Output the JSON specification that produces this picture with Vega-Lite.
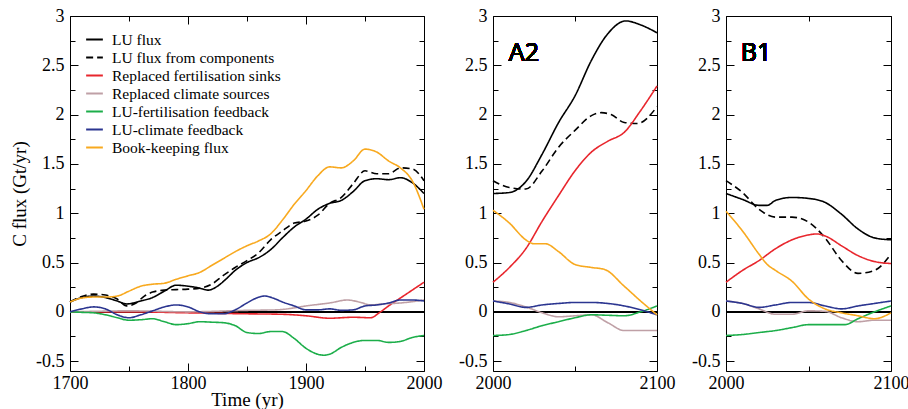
{
  "$schema": "https://vega.github.io/schema/vega-lite/v6.json",
  "padding": {"left": 10, "top": 6, "right": 0, "bottom": 0},
  "spacing": 15,
  "config": {
    "view": {"stroke": "black", "strokeWidth": 1},
    "style": {"guide-label": {"font": "Liberation Serif", "fontSize": 18, "fill": "black"}, "guide-title": {"font": "Liberation Serif", "fontSize": 19, "fontWeight": "normal", "fill": "black"}},
    "axis": {"labelFont": "Liberation Serif", "labelFontSize": 18, "labelColor": "black", "titleFont": "Liberation Serif", "titleFontSize": 19, "titleFontWeight": "normal", "titleColor": "black", "tickColor": "black", "tickWidth": 1, "domain": false, "grid": false, "labelFlush": false, "labelOverlap": false, "labelBound": false},
    "legend": {"title": null, "orient": "none", "legendX": 15, "legendY": 14, "symbolType": "stroke", "symbolSize": 280, "symbolStrokeWidth": 2, "labelFont": "Liberation Serif", "labelFontSize": 15.5, "labelColor": "black", "labelOffset": 8, "rowPadding": 0, "padding": 0, "labelLimit": 300}
  },
  "resolve": {"legend": {"color": "independent", "strokeDash": "independent"}},
  "datasets": {
    "hist": [
      {"series":"LU flux","year":1700,"value":0.10},{"series":"LU flux","year":1710,"value":0.145},{"series":"LU flux","year":1720,"value":0.16},{"series":"LU flux","year":1730,"value":0.145},{"series":"LU flux","year":1740,"value":0.11},{"series":"LU flux","year":1748,"value":0.08},{"series":"LU flux","year":1760,"value":0.11},{"series":"LU flux","year":1770,"value":0.145},{"series":"LU flux","year":1780,"value":0.21},{"series":"LU flux","year":1790,"value":0.27},{"series":"LU flux","year":1800,"value":0.26},{"series":"LU flux","year":1810,"value":0.24},{"series":"LU flux","year":1817,"value":0.22},{"series":"LU flux","year":1825,"value":0.26},{"series":"LU flux","year":1832,"value":0.33},{"series":"LU flux","year":1840,"value":0.42},{"series":"LU flux","year":1850,"value":0.50},{"series":"LU flux","year":1860,"value":0.55},{"series":"LU flux","year":1870,"value":0.63},{"series":"LU flux","year":1880,"value":0.75},{"series":"LU flux","year":1890,"value":0.86},{"series":"LU flux","year":1900,"value":0.94},{"series":"LU flux","year":1910,"value":1.04},{"series":"LU flux","year":1920,"value":1.10},{"series":"LU flux","year":1930,"value":1.13},{"series":"LU flux","year":1940,"value":1.22},{"series":"LU flux","year":1950,"value":1.33},{"series":"LU flux","year":1960,"value":1.35},{"series":"LU flux","year":1970,"value":1.34},{"series":"LU flux","year":1980,"value":1.36},{"series":"LU flux","year":1990,"value":1.31},{"series":"LU flux","year":2000,"value":1.20},
      {"series":"LU flux from components","year":1700,"value":0.10},{"series":"LU flux from components","year":1710,"value":0.155},{"series":"LU flux from components","year":1720,"value":0.18},{"series":"LU flux from components","year":1730,"value":0.17},{"series":"LU flux from components","year":1740,"value":0.13},{"series":"LU flux from components","year":1748,"value":0.06},{"series":"LU flux from components","year":1756,"value":0.09},{"series":"LU flux from components","year":1763,"value":0.16},{"series":"LU flux from components","year":1770,"value":0.20},{"series":"LU flux from components","year":1780,"value":0.22},{"series":"LU flux from components","year":1790,"value":0.225},{"series":"LU flux from components","year":1800,"value":0.23},{"series":"LU flux from components","year":1810,"value":0.24},{"series":"LU flux from components","year":1820,"value":0.28},{"series":"LU flux from components","year":1830,"value":0.37},{"series":"LU flux from components","year":1840,"value":0.45},{"series":"LU flux from components","year":1850,"value":0.52},{"series":"LU flux from components","year":1860,"value":0.60},{"series":"LU flux from components","year":1870,"value":0.73},{"series":"LU flux from components","year":1880,"value":0.82},{"series":"LU flux from components","year":1890,"value":0.90},{"series":"LU flux from components","year":1900,"value":0.92},{"series":"LU flux from components","year":1910,"value":0.98},{"series":"LU flux from components","year":1920,"value":1.10},{"series":"LU flux from components","year":1930,"value":1.16},{"series":"LU flux from components","year":1940,"value":1.30},{"series":"LU flux from components","year":1950,"value":1.43},{"series":"LU flux from components","year":1960,"value":1.40},{"series":"LU flux from components","year":1970,"value":1.40},{"series":"LU flux from components","year":1980,"value":1.46},{"series":"LU flux from components","year":1990,"value":1.45},{"series":"LU flux from components","year":2000,"value":1.33},
      {"series":"Replaced fertilisation sinks","year":1700,"value":0},{"series":"Replaced fertilisation sinks","year":1750,"value":0},{"series":"Replaced fertilisation sinks","year":1800,"value":-0.01},{"series":"Replaced fertilisation sinks","year":1850,"value":-0.02},{"series":"Replaced fertilisation sinks","year":1880,"value":-0.025},{"series":"Replaced fertilisation sinks","year":1900,"value":-0.04},{"series":"Replaced fertilisation sinks","year":1920,"value":-0.065},{"series":"Replaced fertilisation sinks","year":1940,"value":-0.055},{"series":"Replaced fertilisation sinks","year":1955,"value":-0.06},{"series":"Replaced fertilisation sinks","year":1962,"value":-0.01},{"series":"Replaced fertilisation sinks","year":1970,"value":0.06},{"series":"Replaced fertilisation sinks","year":1980,"value":0.14},{"series":"Replaced fertilisation sinks","year":1990,"value":0.22},{"series":"Replaced fertilisation sinks","year":2000,"value":0.30},
      {"series":"Replaced climate sources","year":1700,"value":0},{"series":"Replaced climate sources","year":1720,"value":0.005},{"series":"Replaced climate sources","year":1750,"value":0.01},{"series":"Replaced climate sources","year":1800,"value":0},{"series":"Replaced climate sources","year":1850,"value":0.015},{"series":"Replaced climate sources","year":1875,"value":0.02},{"series":"Replaced climate sources","year":1890,"value":0.04},{"series":"Replaced climate sources","year":1900,"value":0.06},{"series":"Replaced climate sources","year":1910,"value":0.075},{"series":"Replaced climate sources","year":1920,"value":0.09},{"series":"Replaced climate sources","year":1935,"value":0.12},{"series":"Replaced climate sources","year":1945,"value":0.10},{"series":"Replaced climate sources","year":1955,"value":0.07},{"series":"Replaced climate sources","year":1965,"value":0.08},{"series":"Replaced climate sources","year":1980,"value":0.09},{"series":"Replaced climate sources","year":2000,"value":0.12},
      {"series":"LU-fertilisation feedback","year":1700,"value":0},{"series":"LU-fertilisation feedback","year":1710,"value":-0.005},{"series":"LU-fertilisation feedback","year":1720,"value":-0.01},{"series":"LU-fertilisation feedback","year":1730,"value":-0.03},{"series":"LU-fertilisation feedback","year":1740,"value":-0.06},{"series":"LU-fertilisation feedback","year":1750,"value":-0.085},{"series":"LU-fertilisation feedback","year":1760,"value":-0.08},{"series":"LU-fertilisation feedback","year":1770,"value":-0.07},{"series":"LU-fertilisation feedback","year":1780,"value":-0.10},{"series":"LU-fertilisation feedback","year":1790,"value":-0.13},{"series":"LU-fertilisation feedback","year":1800,"value":-0.12},{"series":"LU-fertilisation feedback","year":1810,"value":-0.10},{"series":"LU-fertilisation feedback","year":1820,"value":-0.105},{"series":"LU-fertilisation feedback","year":1830,"value":-0.11},{"series":"LU-fertilisation feedback","year":1840,"value":-0.14},{"series":"LU-fertilisation feedback","year":1850,"value":-0.21},{"series":"LU-fertilisation feedback","year":1860,"value":-0.22},{"series":"LU-fertilisation feedback","year":1870,"value":-0.20},{"series":"LU-fertilisation feedback","year":1880,"value":-0.20},{"series":"LU-fertilisation feedback","year":1890,"value":-0.27},{"series":"LU-fertilisation feedback","year":1900,"value":-0.37},{"series":"LU-fertilisation feedback","year":1910,"value":-0.43},{"series":"LU-fertilisation feedback","year":1915,"value":-0.44},{"series":"LU-fertilisation feedback","year":1920,"value":-0.43},{"series":"LU-fertilisation feedback","year":1930,"value":-0.36},{"series":"LU-fertilisation feedback","year":1940,"value":-0.31},{"series":"LU-fertilisation feedback","year":1950,"value":-0.29},{"series":"LU-fertilisation feedback","year":1960,"value":-0.29},{"series":"LU-fertilisation feedback","year":1970,"value":-0.31},{"series":"LU-fertilisation feedback","year":1980,"value":-0.30},{"series":"LU-fertilisation feedback","year":1990,"value":-0.26},{"series":"LU-fertilisation feedback","year":2000,"value":-0.24},
      {"series":"LU-climate feedback","year":1700,"value":0},{"series":"LU-climate feedback","year":1710,"value":0.03},{"series":"LU-climate feedback","year":1720,"value":0.05},{"series":"LU-climate feedback","year":1730,"value":0.03},{"series":"LU-climate feedback","year":1740,"value":-0.03},{"series":"LU-climate feedback","year":1750,"value":-0.06},{"series":"LU-climate feedback","year":1760,"value":-0.03},{"series":"LU-climate feedback","year":1770,"value":0.01},{"series":"LU-climate feedback","year":1780,"value":0.05},{"series":"LU-climate feedback","year":1790,"value":0.07},{"series":"LU-climate feedback","year":1800,"value":0.05},{"series":"LU-climate feedback","year":1810,"value":0},{"series":"LU-climate feedback","year":1820,"value":-0.02},{"series":"LU-climate feedback","year":1830,"value":-0.02},{"series":"LU-climate feedback","year":1840,"value":0.02},{"series":"LU-climate feedback","year":1850,"value":0.09},{"series":"LU-climate feedback","year":1858,"value":0.14},{"series":"LU-climate feedback","year":1865,"value":0.16},{"series":"LU-climate feedback","year":1872,"value":0.14},{"series":"LU-climate feedback","year":1880,"value":0.10},{"series":"LU-climate feedback","year":1890,"value":0.06},{"series":"LU-climate feedback","year":1900,"value":0.02},{"series":"LU-climate feedback","year":1910,"value":0.02},{"series":"LU-climate feedback","year":1920,"value":0.03},{"series":"LU-climate feedback","year":1930,"value":0.015},{"series":"LU-climate feedback","year":1940,"value":0.02},{"series":"LU-climate feedback","year":1950,"value":0.06},{"series":"LU-climate feedback","year":1960,"value":0.07},{"series":"LU-climate feedback","year":1970,"value":0.09},{"series":"LU-climate feedback","year":1980,"value":0.12},{"series":"LU-climate feedback","year":1990,"value":0.12},{"series":"LU-climate feedback","year":2000,"value":0.11},
      {"series":"Book-keeping flux","year":1700,"value":0.10},{"series":"Book-keeping flux","year":1710,"value":0.14},{"series":"Book-keeping flux","year":1720,"value":0.15},{"series":"Book-keeping flux","year":1730,"value":0.15},{"series":"Book-keeping flux","year":1740,"value":0.16},{"series":"Book-keeping flux","year":1750,"value":0.21},{"series":"Book-keeping flux","year":1760,"value":0.26},{"series":"Book-keeping flux","year":1770,"value":0.28},{"series":"Book-keeping flux","year":1780,"value":0.29},{"series":"Book-keeping flux","year":1790,"value":0.33},{"series":"Book-keeping flux","year":1800,"value":0.365},{"series":"Book-keeping flux","year":1810,"value":0.40},{"series":"Book-keeping flux","year":1820,"value":0.47},{"series":"Book-keeping flux","year":1830,"value":0.54},{"series":"Book-keeping flux","year":1840,"value":0.61},{"series":"Book-keeping flux","year":1850,"value":0.67},{"series":"Book-keeping flux","year":1860,"value":0.72},{"series":"Book-keeping flux","year":1870,"value":0.79},{"series":"Book-keeping flux","year":1880,"value":0.93},{"series":"Book-keeping flux","year":1890,"value":1.09},{"series":"Book-keeping flux","year":1900,"value":1.23},{"series":"Book-keeping flux","year":1910,"value":1.38},{"series":"Book-keeping flux","year":1920,"value":1.47},{"series":"Book-keeping flux","year":1930,"value":1.46},{"series":"Book-keeping flux","year":1940,"value":1.53},{"series":"Book-keeping flux","year":1950,"value":1.65},{"series":"Book-keeping flux","year":1960,"value":1.62},{"series":"Book-keeping flux","year":1970,"value":1.53},{"series":"Book-keeping flux","year":1980,"value":1.46},{"series":"Book-keeping flux","year":1990,"value":1.33},{"series":"Book-keeping flux","year":2000,"value":1.04}
    ],
    "a2": [
      {"series":"LU flux","year":2000,"value":1.20},{"series":"LU flux","year":2010,"value":1.21},{"series":"LU flux","year":2020,"value":1.32},{"series":"LU flux","year":2030,"value":1.60},{"series":"LU flux","year":2040,"value":1.92},{"series":"LU flux","year":2050,"value":2.19},{"series":"LU flux","year":2060,"value":2.55},{"series":"LU flux","year":2070,"value":2.82},{"series":"LU flux","year":2081,"value":2.95},{"series":"LU flux","year":2090,"value":2.91},{"series":"LU flux","year":2100,"value":2.83},
      {"series":"LU flux from components","year":2000,"value":1.33},{"series":"LU flux from components","year":2010,"value":1.26},{"series":"LU flux from components","year":2020,"value":1.245},{"series":"LU flux from components","year":2030,"value":1.43},{"series":"LU flux from components","year":2040,"value":1.67},{"series":"LU flux from components","year":2050,"value":1.84},{"series":"LU flux from components","year":2060,"value":1.99},{"series":"LU flux from components","year":2066,"value":2.02},{"series":"LU flux from components","year":2072,"value":2.0},{"series":"LU flux from components","year":2080,"value":1.92},{"series":"LU flux from components","year":2088,"value":1.91},{"series":"LU flux from components","year":2100,"value":2.08},
      {"series":"Replaced fertilisation sinks","year":2000,"value":0.30},{"series":"Replaced fertilisation sinks","year":2010,"value":0.45},{"series":"Replaced fertilisation sinks","year":2020,"value":0.64},{"series":"Replaced fertilisation sinks","year":2030,"value":0.92},{"series":"Replaced fertilisation sinks","year":2040,"value":1.18},{"series":"Replaced fertilisation sinks","year":2050,"value":1.43},{"series":"Replaced fertilisation sinks","year":2060,"value":1.62},{"series":"Replaced fertilisation sinks","year":2070,"value":1.73},{"series":"Replaced fertilisation sinks","year":2080,"value":1.82},{"series":"Replaced fertilisation sinks","year":2090,"value":2.04},{"series":"Replaced fertilisation sinks","year":2100,"value":2.29},
      {"series":"Replaced climate sources","year":2000,"value":0.11},{"series":"Replaced climate sources","year":2010,"value":0.095},{"series":"Replaced climate sources","year":2020,"value":0.05},{"series":"Replaced climate sources","year":2030,"value":-0.01},{"series":"Replaced climate sources","year":2040,"value":-0.05},{"series":"Replaced climate sources","year":2050,"value":-0.04},{"series":"Replaced climate sources","year":2060,"value":-0.03},{"series":"Replaced climate sources","year":2070,"value":-0.11},{"series":"Replaced climate sources","year":2080,"value":-0.19},{"series":"Replaced climate sources","year":2090,"value":-0.19},{"series":"Replaced climate sources","year":2100,"value":-0.19},
      {"series":"LU-fertilisation feedback","year":2000,"value":-0.24},{"series":"LU-fertilisation feedback","year":2010,"value":-0.23},{"series":"LU-fertilisation feedback","year":2020,"value":-0.19},{"series":"LU-fertilisation feedback","year":2030,"value":-0.14},{"series":"LU-fertilisation feedback","year":2040,"value":-0.10},{"series":"LU-fertilisation feedback","year":2050,"value":-0.06},{"series":"LU-fertilisation feedback","year":2060,"value":-0.03},{"series":"LU-fertilisation feedback","year":2070,"value":-0.035},{"series":"LU-fertilisation feedback","year":2080,"value":-0.04},{"series":"LU-fertilisation feedback","year":2090,"value":0.0},{"series":"LU-fertilisation feedback","year":2100,"value":0.06},
      {"series":"LU-climate feedback","year":2000,"value":0.11},{"series":"LU-climate feedback","year":2010,"value":0.08},{"series":"LU-climate feedback","year":2020,"value":0.045},{"series":"LU-climate feedback","year":2030,"value":0.07},{"series":"LU-climate feedback","year":2040,"value":0.085},{"series":"LU-climate feedback","year":2050,"value":0.095},{"series":"LU-climate feedback","year":2060,"value":0.095},{"series":"LU-climate feedback","year":2070,"value":0.085},{"series":"LU-climate feedback","year":2080,"value":0.06},{"series":"LU-climate feedback","year":2090,"value":0.02},{"series":"LU-climate feedback","year":2100,"value":-0.03},
      {"series":"Book-keeping flux","year":2000,"value":1.03},{"series":"Book-keeping flux","year":2010,"value":0.90},{"series":"Book-keeping flux","year":2020,"value":0.73},{"series":"Book-keeping flux","year":2025,"value":0.69},{"series":"Book-keeping flux","year":2032,"value":0.69},{"series":"Book-keeping flux","year":2040,"value":0.61},{"series":"Book-keeping flux","year":2050,"value":0.48},{"series":"Book-keeping flux","year":2060,"value":0.45},{"series":"Book-keeping flux","year":2068,"value":0.43},{"series":"Book-keeping flux","year":2080,"value":0.26},{"series":"Book-keeping flux","year":2090,"value":0.11},{"series":"Book-keeping flux","year":2100,"value":-0.03}
    ],
    "b1": [
      {"series":"LU flux","year":2000,"value":1.20},{"series":"LU flux","year":2010,"value":1.14},{"series":"LU flux","year":2020,"value":1.08},{"series":"LU flux","year":2025,"value":1.08},{"series":"LU flux","year":2030,"value":1.13},{"series":"LU flux","year":2040,"value":1.16},{"series":"LU flux","year":2050,"value":1.15},{"series":"LU flux","year":2060,"value":1.11},{"series":"LU flux","year":2070,"value":0.99},{"series":"LU flux","year":2080,"value":0.84},{"series":"LU flux","year":2090,"value":0.75},{"series":"LU flux","year":2100,"value":0.73},
      {"series":"LU flux from components","year":2000,"value":1.33},{"series":"LU flux from components","year":2010,"value":1.21},{"series":"LU flux from components","year":2020,"value":1.04},{"series":"LU flux from components","year":2030,"value":0.96},{"series":"LU flux from components","year":2040,"value":0.96},{"series":"LU flux from components","year":2050,"value":0.91},{"series":"LU flux from components","year":2060,"value":0.75},{"series":"LU flux from components","year":2070,"value":0.52},{"series":"LU flux from components","year":2080,"value":0.39},{"series":"LU flux from components","year":2090,"value":0.42},{"series":"LU flux from components","year":2100,"value":0.585},
      {"series":"Replaced fertilisation sinks","year":2000,"value":0.30},{"series":"Replaced fertilisation sinks","year":2010,"value":0.42},{"series":"Replaced fertilisation sinks","year":2020,"value":0.52},{"series":"Replaced fertilisation sinks","year":2030,"value":0.64},{"series":"Replaced fertilisation sinks","year":2040,"value":0.73},{"series":"Replaced fertilisation sinks","year":2050,"value":0.78},{"series":"Replaced fertilisation sinks","year":2055,"value":0.79},{"series":"Replaced fertilisation sinks","year":2060,"value":0.77},{"series":"Replaced fertilisation sinks","year":2070,"value":0.67},{"series":"Replaced fertilisation sinks","year":2080,"value":0.57},{"series":"Replaced fertilisation sinks","year":2090,"value":0.51},{"series":"Replaced fertilisation sinks","year":2100,"value":0.49},
      {"series":"Replaced climate sources","year":2000,"value":0.11},{"series":"Replaced climate sources","year":2010,"value":0.085},{"series":"Replaced climate sources","year":2020,"value":0.03},{"series":"Replaced climate sources","year":2030,"value":-0.025},{"series":"Replaced climate sources","year":2040,"value":-0.025},{"series":"Replaced climate sources","year":2050,"value":0.01},{"series":"Replaced climate sources","year":2060,"value":0.005},{"series":"Replaced climate sources","year":2070,"value":-0.06},{"series":"Replaced climate sources","year":2080,"value":-0.10},{"series":"Replaced climate sources","year":2090,"value":-0.085},{"series":"Replaced climate sources","year":2100,"value":-0.085},
      {"series":"LU-fertilisation feedback","year":2000,"value":-0.24},{"series":"LU-fertilisation feedback","year":2010,"value":-0.23},{"series":"LU-fertilisation feedback","year":2020,"value":-0.21},{"series":"LU-fertilisation feedback","year":2030,"value":-0.19},{"series":"LU-fertilisation feedback","year":2040,"value":-0.16},{"series":"LU-fertilisation feedback","year":2050,"value":-0.13},{"series":"LU-fertilisation feedback","year":2060,"value":-0.13},{"series":"LU-fertilisation feedback","year":2072,"value":-0.13},{"series":"LU-fertilisation feedback","year":2080,"value":-0.07},{"series":"LU-fertilisation feedback","year":2090,"value":0.0},{"series":"LU-fertilisation feedback","year":2100,"value":0.06},
      {"series":"LU-climate feedback","year":2000,"value":0.11},{"series":"LU-climate feedback","year":2010,"value":0.085},{"series":"LU-climate feedback","year":2020,"value":0.045},{"series":"LU-climate feedback","year":2030,"value":0.07},{"series":"LU-climate feedback","year":2040,"value":0.095},{"series":"LU-climate feedback","year":2050,"value":0.095},{"series":"LU-climate feedback","year":2060,"value":0.06},{"series":"LU-climate feedback","year":2070,"value":0.03},{"series":"LU-climate feedback","year":2080,"value":0.06},{"series":"LU-climate feedback","year":2090,"value":0.085},{"series":"LU-climate feedback","year":2100,"value":0.11},
      {"series":"Book-keeping flux","year":2000,"value":1.02},{"series":"Book-keeping flux","year":2010,"value":0.82},{"series":"Book-keeping flux","year":2020,"value":0.585},{"series":"Book-keeping flux","year":2025,"value":0.48},{"series":"Book-keeping flux","year":2030,"value":0.42},{"series":"Book-keeping flux","year":2040,"value":0.31},{"series":"Book-keeping flux","year":2050,"value":0.13},{"series":"Book-keeping flux","year":2060,"value":0.03},{"series":"Book-keeping flux","year":2070,"value":-0.01},{"series":"Book-keeping flux","year":2080,"value":-0.04},{"series":"Book-keeping flux","year":2090,"value":-0.07},{"series":"Book-keeping flux","year":2100,"value":-0.01}
    ]
  },
  "hconcat": [
    {
      "width": 354, "height": 355,
      "data": {"name": "hist"},
      "layer": [
        {"mark": {"type": "rule", "color": "black", "strokeWidth": 1}, "encoding": {"y": {"datum": 0, "type": "quantitative", "scale": {"domain": [-0.6, 3], "nice": false, "zero": false}, "axis": null}}},
        {"mark": {"type": "line", "interpolate": "monotone", "strokeWidth": 1.6},
         "encoding": {
           "x": {"field": "year", "type": "quantitative", "scale": {"domain": [1700, 2000], "nice": false, "zero": false},
                 "axis": {"orient": "bottom", "values": [1700, 1800, 1900, 2000], "labelExpr": "'' + datum.value", "ticks": false, "tickSize": 0, "labelPadding": 3, "title": "Time (yr)", "titlePadding": -2}},
           "y": {"field": "value", "type": "quantitative", "scale": {"domain": [-0.6, 3], "nice": false, "zero": false},
                 "axis": {"orient": "left", "values": [-0.5, 0, 0.5, 1, 1.5, 2, 2.5, 3], "labelExpr": "'' + datum.value", "ticks": false, "tickSize": 0, "labelPadding": 6, "title": "C flux (Gt/yr)", "titlePadding": 6}},
           "color": {"field": "series", "type": "nominal", "scale": {"domain": ["LU flux", "LU flux from components", "Replaced fertilisation sinks", "Replaced climate sources", "LU-fertilisation feedback", "LU-climate feedback", "Book-keeping flux"], "range": ["#000000", "#000000", "#e8262d", "#bfa0a6", "#1cae4a", "#2b3590", "#f8a91f"]}, "legend": {}},
           "strokeDash": {"field": "series", "type": "nominal", "scale": {"domain": ["LU flux", "LU flux from components", "Replaced fertilisation sinks", "Replaced climate sources", "LU-fertilisation feedback", "LU-climate feedback", "Book-keeping flux"], "range": [[1, 0], [7, 4], [1, 0], [1, 0], [1, 0], [1, 0], [1, 0]]}, "legend": {}}
         }},
        {"mark": {"type": "point", "opacity": 0},
         "encoding": {
           "x": {"field": "year", "type": "quantitative", "axis": {"orient": "top", "values": [1700, 1750, 1800, 1850, 1900, 1950, 2000], "labels": false, "tickSize": {"condition": {"test": "datum.value % 100 === 0", "value": -8}, "value": -5}, "title": null}},
           "y": {"field": "value", "type": "quantitative", "axis": {"orient": "right", "values": [-0.5, -0.25, 0, 0.25, 0.5, 0.75, 1, 1.25, 1.5, 1.75, 2, 2.25, 2.5, 2.75, 3], "labels": false, "tickSize": {"condition": {"test": "datum.value % 0.5 === 0", "value": -8}, "value": -5}, "title": null}}
         }},
        {"mark": {"type": "point", "opacity": 0},
         "encoding": {
           "x": {"field": "year", "type": "quantitative", "axis": {"orient": "bottom", "values": [1700, 1750, 1800, 1850, 1900, 1950, 2000], "labels": false, "tickSize": {"condition": {"test": "datum.value % 100 === 0", "value": -8}, "value": -5}, "title": null}},
           "y": {"field": "value", "type": "quantitative", "axis": {"orient": "left", "values": [-0.5, -0.25, 0, 0.25, 0.5, 0.75, 1, 1.25, 1.5, 1.75, 2, 2.25, 2.5, 2.75, 3], "labels": false, "tickSize": {"condition": {"test": "datum.value % 0.5 === 0", "value": -8}, "value": -5}, "title": null}}
         }}
      ],
      "resolve": {"axis": {"x": "independent", "y": "independent"}}
    },
    {
      "width": 164, "height": 355,
      "data": {"name": "a2"},
      "layer": [
        {"mark": {"type": "rule", "color": "black", "strokeWidth": 1}, "encoding": {"y": {"datum": 0, "type": "quantitative", "scale": {"domain": [-0.6, 3], "nice": false, "zero": false}, "axis": null}}},
        {"mark": {"type": "line", "interpolate": "monotone", "strokeWidth": 1.6},
         "encoding": {
           "x": {"field": "year", "type": "quantitative", "scale": {"domain": [2000, 2100], "nice": false, "zero": false},
                 "axis": {"orient": "bottom", "values": [2000, 2100], "labelExpr": "'' + datum.value", "ticks": false, "tickSize": 0, "labelPadding": 3, "title": null}},
           "y": {"field": "value", "type": "quantitative", "scale": {"domain": [-0.6, 3], "nice": false, "zero": false},
                 "axis": {"orient": "left", "values": [-0.5, 0, 0.5, 1, 1.5, 2, 2.5, 3], "labelExpr": "'' + datum.value", "ticks": false, "tickSize": 0, "labelPadding": 6, "title": null}},
           "color": {"field": "series", "type": "nominal", "scale": {"domain": ["LU flux", "LU flux from components", "Replaced fertilisation sinks", "Replaced climate sources", "LU-fertilisation feedback", "LU-climate feedback", "Book-keeping flux"], "range": ["#000000", "#000000", "#e8262d", "#bfa0a6", "#1cae4a", "#2b3590", "#f8a91f"]}, "legend": null},
           "strokeDash": {"field": "series", "type": "nominal", "scale": {"domain": ["LU flux", "LU flux from components", "Replaced fertilisation sinks", "Replaced climate sources", "LU-fertilisation feedback", "LU-climate feedback", "Book-keeping flux"], "range": [[1, 0], [7, 4], [1, 0], [1, 0], [1, 0], [1, 0], [1, 0]]}, "legend": null}
         }},
        {"mark": {"type": "point", "opacity": 0},
         "encoding": {
           "x": {"field": "year", "type": "quantitative", "axis": {"orient": "top", "values": [2000, 2050, 2100], "labels": false, "tickSize": {"condition": {"test": "datum.value % 100 === 0", "value": -8}, "value": -5}, "title": null}},
           "y": {"field": "value", "type": "quantitative", "axis": {"orient": "right", "values": [-0.5, -0.25, 0, 0.25, 0.5, 0.75, 1, 1.25, 1.5, 1.75, 2, 2.25, 2.5, 2.75, 3], "labels": false, "tickSize": {"condition": {"test": "datum.value % 0.5 === 0", "value": -8}, "value": -5}, "title": null}}
         }},
        {"mark": {"type": "point", "opacity": 0},
         "encoding": {
           "x": {"field": "year", "type": "quantitative", "axis": {"orient": "bottom", "values": [2000, 2050, 2100], "labels": false, "tickSize": {"condition": {"test": "datum.value % 100 === 0", "value": -8}, "value": -5}, "title": null}},
           "y": {"field": "value", "type": "quantitative", "axis": {"orient": "left", "values": [-0.5, -0.25, 0, 0.25, 0.5, 0.75, 1, 1.25, 1.5, 1.75, 2, 2.25, 2.5, 2.75, 3], "labels": false, "tickSize": {"condition": {"test": "datum.value % 0.5 === 0", "value": -8}, "value": -5}, "title": null}}
         }},
        {"mark": {"type": "text", "text": "A2", "font": "Noto Sans", "fontSize": 25, "fontWeight": "normal", "align": "left", "baseline": "alphabetic", "color": "black"},
         "encoding": {"x": {"datum": 2009.6, "type": "quantitative", "axis": null}, "y": {"datum": 2.54, "type": "quantitative", "axis": null}}}
      ],
      "resolve": {"axis": {"x": "independent", "y": "independent"}}
    },
    {
      "width": 165, "height": 355,
      "data": {"name": "b1"},
      "layer": [
        {"mark": {"type": "rule", "color": "black", "strokeWidth": 1}, "encoding": {"y": {"datum": 0, "type": "quantitative", "scale": {"domain": [-0.6, 3], "nice": false, "zero": false}, "axis": null}}},
        {"mark": {"type": "line", "interpolate": "monotone", "strokeWidth": 1.6},
         "encoding": {
           "x": {"field": "year", "type": "quantitative", "scale": {"domain": [2000, 2100], "nice": false, "zero": false},
                 "axis": {"orient": "bottom", "values": [2000, 2100], "labelExpr": "'' + datum.value", "ticks": false, "tickSize": 0, "labelPadding": 3, "title": null}},
           "y": {"field": "value", "type": "quantitative", "scale": {"domain": [-0.6, 3], "nice": false, "zero": false},
                 "axis": {"orient": "left", "values": [-0.5, 0, 0.5, 1, 1.5, 2, 2.5, 3], "labelExpr": "'' + datum.value", "ticks": false, "tickSize": 0, "labelPadding": 6, "title": null}},
           "color": {"field": "series", "type": "nominal", "scale": {"domain": ["LU flux", "LU flux from components", "Replaced fertilisation sinks", "Replaced climate sources", "LU-fertilisation feedback", "LU-climate feedback", "Book-keeping flux"], "range": ["#000000", "#000000", "#e8262d", "#bfa0a6", "#1cae4a", "#2b3590", "#f8a91f"]}, "legend": null},
           "strokeDash": {"field": "series", "type": "nominal", "scale": {"domain": ["LU flux", "LU flux from components", "Replaced fertilisation sinks", "Replaced climate sources", "LU-fertilisation feedback", "LU-climate feedback", "Book-keeping flux"], "range": [[1, 0], [7, 4], [1, 0], [1, 0], [1, 0], [1, 0], [1, 0]]}, "legend": null}
         }},
        {"mark": {"type": "point", "opacity": 0},
         "encoding": {
           "x": {"field": "year", "type": "quantitative", "axis": {"orient": "top", "values": [2000, 2050, 2100], "labels": false, "tickSize": {"condition": {"test": "datum.value % 100 === 0", "value": -8}, "value": -5}, "title": null}},
           "y": {"field": "value", "type": "quantitative", "axis": {"orient": "right", "values": [-0.5, -0.25, 0, 0.25, 0.5, 0.75, 1, 1.25, 1.5, 1.75, 2, 2.25, 2.5, 2.75, 3], "labels": false, "tickSize": {"condition": {"test": "datum.value % 0.5 === 0", "value": -8}, "value": -5}, "title": null}}
         }},
        {"mark": {"type": "point", "opacity": 0},
         "encoding": {
           "x": {"field": "year", "type": "quantitative", "axis": {"orient": "bottom", "values": [2000, 2050, 2100], "labels": false, "tickSize": {"condition": {"test": "datum.value % 100 === 0", "value": -8}, "value": -5}, "title": null}},
           "y": {"field": "value", "type": "quantitative", "axis": {"orient": "left", "values": [-0.5, -0.25, 0, 0.25, 0.5, 0.75, 1, 1.25, 1.5, 1.75, 2, 2.25, 2.5, 2.75, 3], "labels": false, "tickSize": {"condition": {"test": "datum.value % 0.5 === 0", "value": -8}, "value": -5}, "title": null}}
         }},
        {"mark": {"type": "text", "text": "B1", "font": "Noto Sans", "fontSize": 25, "fontWeight": "normal", "align": "left", "baseline": "alphabetic", "color": "black"},
         "encoding": {"x": {"datum": 2009, "type": "quantitative", "axis": null}, "y": {"datum": 2.54, "type": "quantitative", "axis": null}}}
      ],
      "resolve": {"axis": {"x": "independent", "y": "independent"}}
    }
  ]
}
